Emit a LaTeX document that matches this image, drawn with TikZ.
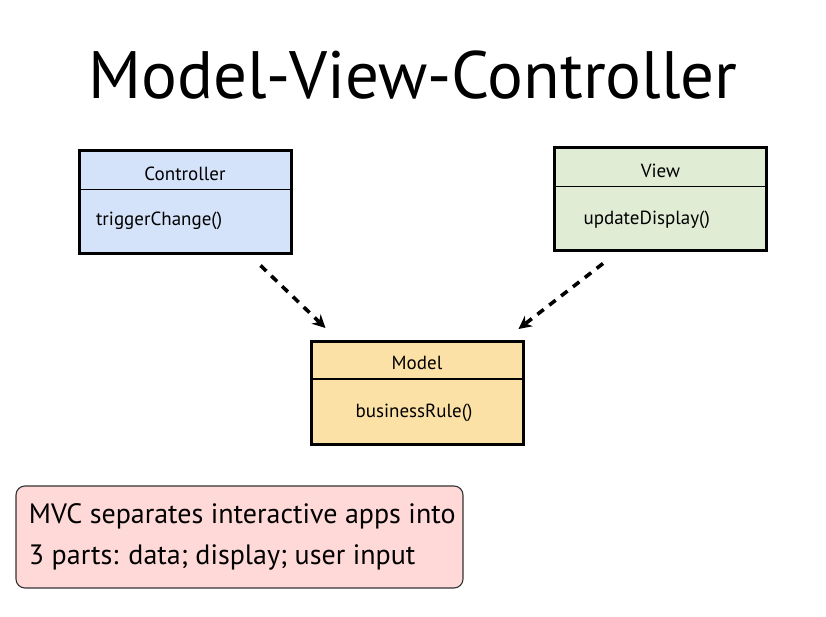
\documentclass[tikz,border=0pt]{standalone}
\usepackage{fontspec}
\setmainfont{PT Sans}
\usepackage{tikz}
\usetikzlibrary{positioning, arrows.meta, calc}
\definecolor{ctrlblue}{HTML}{D5E3FA}
\definecolor{viewgreen}{HTML}{E1ECD5}
\definecolor{modelsand}{HTML}{FCE1A6}
\definecolor{notepink}{HTML}{FFD9D8}

\begin{document}
\begin{tikzpicture}[
  x=1pt, y=-1pt,
  umlbox/.style={rectangle, draw=black, line width=3pt,
                 minimum width=212pt, minimum height=103pt, inner sep=0pt},
  boxtitle/.style={font=\fontsize{19}{22}\selectfont, anchor=center},
  boxop/.style={font=\fontsize{19}{22}\selectfont, anchor=west},
  depend/.style={-{Stealth[length=13pt, width=13pt]}, line width=3.6pt,
                 dash pattern=on 8pt off 7pt},
  every node/.style={align=center}
]
\useasboundingbox (0,0) rectangle (826,617);
% Title
\node[font=\fontsize{67}{72}\selectfont] (title) at (413,75) {Model-View-Controller};
% Controller
\node[umlbox, fill=ctrlblue] (ctrl) at (185,202.5) {};
\draw[line width=1.8pt] ($(ctrl.north west)+(0,40)$) -- ($(ctrl.north east)+(0,40)$);
\node[boxtitle] (ctrlname) at ($(ctrl.north)+(0,24)$) {Controller};
\node[boxop] (ctrlop) at ($(ctrl.north west)+(15,71)$) {triggerChange()};
% View
\node[umlbox, fill=viewgreen] (view) at (660.5,199.5) {};
\draw[line width=1.8pt] ($(view.north west)+(0,40)$) -- ($(view.north east)+(0,40)$);
\node[boxtitle] (viewname) at ($(view.north)+(0,24)$) {View};
\node[boxop] (viewop) at ($(view.north west)+(27,73)$) {updateDisplay()};
% Model
\node[umlbox, fill=modelsand] (model) at (417,393) {};
\draw[line width=1.8pt] ($(model.north west)+(0,39)$) -- ($(model.north east)+(0,39)$);
\node[boxtitle] (modelname) at ($(model.north)+(0,23)$) {Model};
\node[boxtitle] (modelop) at ($(model.north)+(-3,73)$) {businessRule()};
% Dependencies
\draw[depend] ($(ctrl.south east)+(-32,10)$) -- ($(model.north west)+(16,-12)$);
\draw[depend] ($(view.south west)+(50,11)$) -- ($(model.north east)+(-6,-11)$);
% Note
\node[draw=black!80, line width=1.1pt, fill=notepink, rounded corners=9pt,
      minimum width=447pt, minimum height=102pt, inner sep=0pt] (note) at (239.5,537) {};
\node[anchor=west, align=left, font=\fontsize{28}{41}\selectfont] (notetext)
  at ($(note.west)+(10,0)$) {MVC separates interactive apps into\\3 parts: data; display; user input};
\end{tikzpicture}
\end{document}
